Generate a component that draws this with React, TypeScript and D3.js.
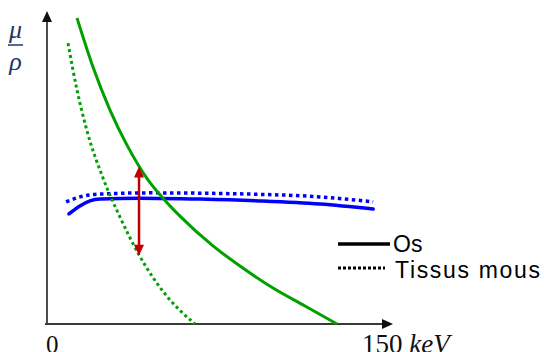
import * as d3 from 'd3'

// energie (keV) et coefficient d'attenuation massique (unites arbitraires)
const osGreenE = [13.68, 20.97, 28.72, 36.47, 46.05, 52.89, 60.64, 75.68, 87.99, 103.04, 117.63, 132.22]
const osGreenMu = [9.87, 8.29, 6.9, 5.77, 4.65, 4.06, 3.48, 2.52, 1.87, 1.16, 0.58, 0]
const tissusGreenE = [9.57, 13.68, 18.24, 25.53, 33.28, 41.95, 53.8, 67.48]
const tissusGreenMu = [9.06, 7.55, 6.23, 4.71, 3.45, 2.23, 0.97, 0]

const osBlueE = [10, 15, 19.6, 24.2, 42.4, 69.8, 97.1, 124.5, 148.7]
const osBlueMu = [3.55, 3.81, 3.97, 4.03, 4.06, 4.03, 3.97, 3.87, 3.71]
const tissusBlueE = [8.7, 15, 24.2, 47, 92.6, 124.5, 148.7]
const tissusBlueMu = [3.94, 4.1, 4.19, 4.23, 4.19, 4.1, 3.94]

const arrowE = 41.95
const arrowMu = [5.08, 2.2]

const legendItems = ['Os', 'Tissus mous']

const zip = (xs: number[], ys: number[]) => xs.map((x, i) => [x, ys[i]] as [number, number])

export default function App() {
  const x = d3.scaleLinear().domain([0, 150]).range([47, 376])
  const y = d3.scaleLinear().domain([0, 10]).range([324, 14])
  const line = d3.line<[number, number]>()
    .x(d => x(d[0]))
    .y(d => y(d[1]))
    .curve(d3.curveMonotoneX)

  const green = '#00a000'
  const blue = '#0000ff'
  const red = '#c00000'
  const axis = '#3a3a3a'
  const navy = '#203864'

  const ax = x(arrowE)
  const ay1 = y(arrowMu[0])
  const ay2 = y(arrowMu[1])
  const xEnd = 393

  return (
    <svg width={544} height={352} style={{ position: 'absolute', left: 0, top: 0 }}>
      <rect width={544} height={352} fill="white" />
      {/* axes */}
      <line x1={x(0)} y1={y(0)} x2={x(0)} y2={20} stroke={axis} strokeWidth={1.8} />
      <path d={`M${x(0) - 5},${22} L${x(0)},${11} L${x(0) + 5},${22} Z`} fill="#111" />
      <line x1={x(0) - 2} y1={y(0)} x2={xEnd - 8} y2={y(0)} stroke={axis} strokeWidth={1.8} />
      <path d={`M${xEnd - 11},${y(0) - 5} L${xEnd},${y(0)} L${xEnd - 11},${y(0) + 5} Z`} fill="#111" />

      {/* courbes */}
      <path d={line(zip(tissusBlueE, tissusBlueMu)) || ''} fill="none" stroke={blue} strokeWidth={3.5} strokeDasharray="3.5,3.5" />
      <path d={line(zip(osBlueE, osBlueMu)) || ''} fill="none" stroke={blue} strokeWidth={3.5} strokeLinecap="round" />
      <path d={line(zip(tissusGreenE, tissusGreenMu)) || ''} fill="none" stroke={green} strokeWidth={3} strokeDasharray="3,3" />
      <path d={line(zip(osGreenE, osGreenMu)) || ''} fill="none" stroke={green} strokeWidth={3} />

      {/* fleche rouge */}
      <line x1={ax} y1={ay1 + 8} x2={ax} y2={ay2 - 8} stroke={red} strokeWidth={2.5} />
      <path d={`M${ax - 5},${ay1 + 11} L${ax},${ay1} L${ax + 5},${ay1 + 11} Z`} fill={red} />
      <path d={`M${ax - 5},${ay2 - 11} L${ax},${ay2} L${ax + 5},${ay2 - 11} Z`} fill={red} />

      {/* legende */}
      {legendItems.map((t, i) => (
        <g key={t} transform={`translate(338,${244 + i * 24})`}>
          <line x1={0} y1={0} x2={i === 0 ? 52 : 47} y2={0} stroke="#000" strokeWidth={i === 0 ? 3.5 : 3} strokeDasharray={i === 0 ? undefined : '3,2'} />
          {i === 0 ? (
            <text x={55} y={8} fontFamily="Liberation Sans, Arial, sans-serif" fontSize={23} fill="#000">{t}</text>
          ) : (
            <text x={57} y={10} fontFamily="Liberation Sans, Arial, sans-serif" fontSize={23} fill="#000" textLength={145} lengthAdjust="spacing">{t}</text>
          )}
        </g>
      ))}

      {/* etiquettes */}
      <text x={46} y={353} fontFamily="Liberation Serif, serif" fontSize={25} fill="#111">0</text>
      <text x={362} y={353} fontFamily="Liberation Serif, serif" fontSize={27} fill="#111">
        150 <tspan fontStyle="italic">keV</tspan>
      </text>
      <text x={15.5} y={38} textAnchor="middle" fontFamily="Liberation Serif, serif" fontStyle="italic" fontSize={26} fill={navy}>μ</text>
      <line x1={8} y1={45} x2={23} y2={45} stroke={navy} strokeWidth={1.5} />
      <text x={15.5} y={70} textAnchor="middle" fontFamily="Liberation Serif, serif" fontStyle="italic" fontSize={26} fill={navy}>ρ</text>
    </svg>
  )
}
